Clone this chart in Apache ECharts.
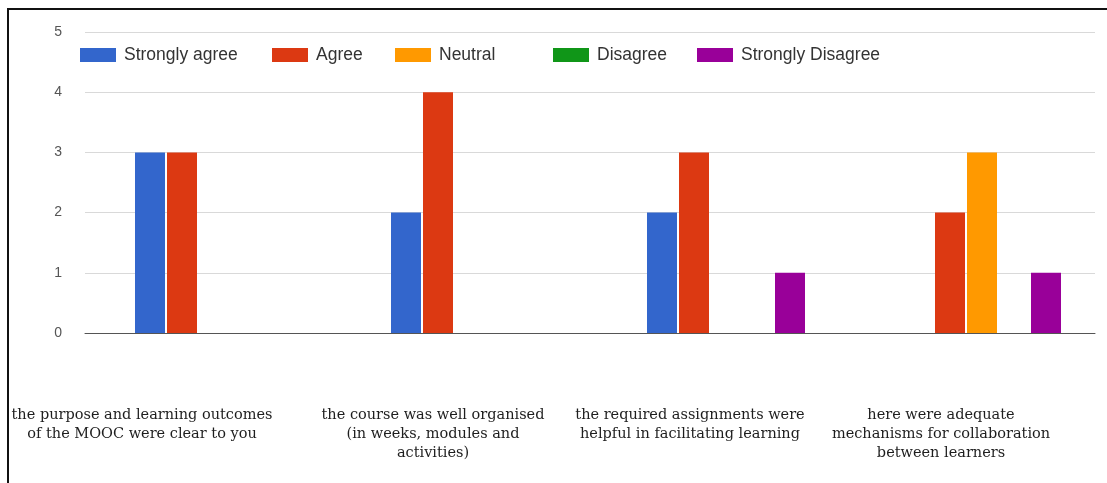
<!DOCTYPE html>
<html>
<head>
<meta charset="utf-8">
<script src="https://cdn.jsdelivr.net/npm/echarts@6/dist/echarts.min.js"></script>
<style>
html,body{margin:0;padding:0;background:#fff;}
#frame{position:absolute;left:7px;top:8px;width:1120px;height:500px;border-top:2px solid #111;border-left:2px solid #111;box-sizing:border-box;}
#chart{position:absolute;left:0;top:0;width:1107px;height:483px;}
</style>
</head>
<body>
<div id="frame"></div>
<div id="chart"></div>
<script>
const categories = [
  "the purpose and learning outcomes\nof the MOOC were clear to you",
  "the course was well organised\n(in weeks, modules and\nactivities)",
  "the required assignments were\nhelpful in facilitating learning",
  "here were adequate\nmechanisms for collaboration\nbetween learners"
];
const seriesNames = ["Strongly agree", "Agree", "Neutral", "Disagree", "Strongly Disagree"];
const stronglyAgree = [3, 2, 2, 0];
const agree = [3, 4, 3, 2];
const neutral = [0, 0, 0, 3];
const disagree = [0, 0, 0, 0];
const stronglyDisagree = [0, 0, 1, 1];
const yTicks = [0, 1, 2, 3, 4, 5];

const colors = ["#3366cc", "#dc3912", "#ff9900", "#109618", "#990099"];
const seriesData = [stronglyAgree, agree, neutral, disagree, stronglyDisagree];
const legendLefts = [75, 267, 390, 548, 692];
const labelShift = [144, 74, 72, 82];

const chart = echarts.init(document.getElementById('chart'), null, {renderer: 'canvas'});

const rich = {};
labelShift.forEach((p, i) => {
  rich['s' + i] = {
    fontFamily: 'DejaVu Serif',
    fontSize: 14.5,
    lineHeight: 19,
    color: '#1e1e1e',
    padding: [0, p, 0, 0],
    align: 'center'
  };
});

const option = {
  backgroundColor: 'transparent',
  animation: false,
  color: colors,
  legend: seriesNames.map((n, i) => ({
    data: [n],
    left: legendLefts[i],
    top: 41,
    itemWidth: 36,
    itemHeight: 14,
    itemGap: 0,
    icon: 'rect',
    selectedMode: false,
    textStyle: {fontFamily: 'Liberation Sans', fontSize: 17.5, color: '#333', padding: [0, 0, 0, 3]}
  })),
  grid: [
    {left: 86, top: 32, width: 1024, height: 301, outerBoundsMode: 'none'},
    {left: 85, top: 32, width: 1010, height: 301, outerBoundsMode: 'none'}
  ],
  xAxis: [
    {
      type: 'category', gridIndex: 0, data: categories,
      axisLine: {show: false}, axisTick: {show: false},
      axisLabel: {
        interval: 0, margin: 73,
        formatter: (v, i) => '{s' + i + '|' + v + '}',
        rich: rich
      }
    },
    {
      type: 'category', gridIndex: 1, data: [''],
      axisLine: {show: true, lineStyle: {color: '#555', width: 1}},
      axisTick: {show: false}, axisLabel: {show: false}
    }
  ],
  yAxis: [
    {type: 'value', gridIndex: 0, min: 0, max: 5, interval: 1, show: false, splitLine: {show: false}},
    {
      type: 'value', gridIndex: 1, min: yTicks[0], max: yTicks[yTicks.length - 1], interval: 1,
      axisLine: {show: false}, axisTick: {show: false},
      axisLabel: {margin: 23, fontFamily: 'Liberation Sans', fontSize: 14, color: '#555'},
      splitLine: {lineStyle: {color: '#d9d9d9', width: 1}}
    }
  ],
  series: seriesNames.map((n, i) => ({
    name: n,
    type: 'bar',
    xAxisIndex: 0,
    yAxisIndex: 0,
    data: seriesData[i],
    barWidth: 30,
    barGap: '6.67%',
    itemStyle: {color: colors[i]}
  }))
};
chart.setOption(option);
</script>
</body>
</html>
